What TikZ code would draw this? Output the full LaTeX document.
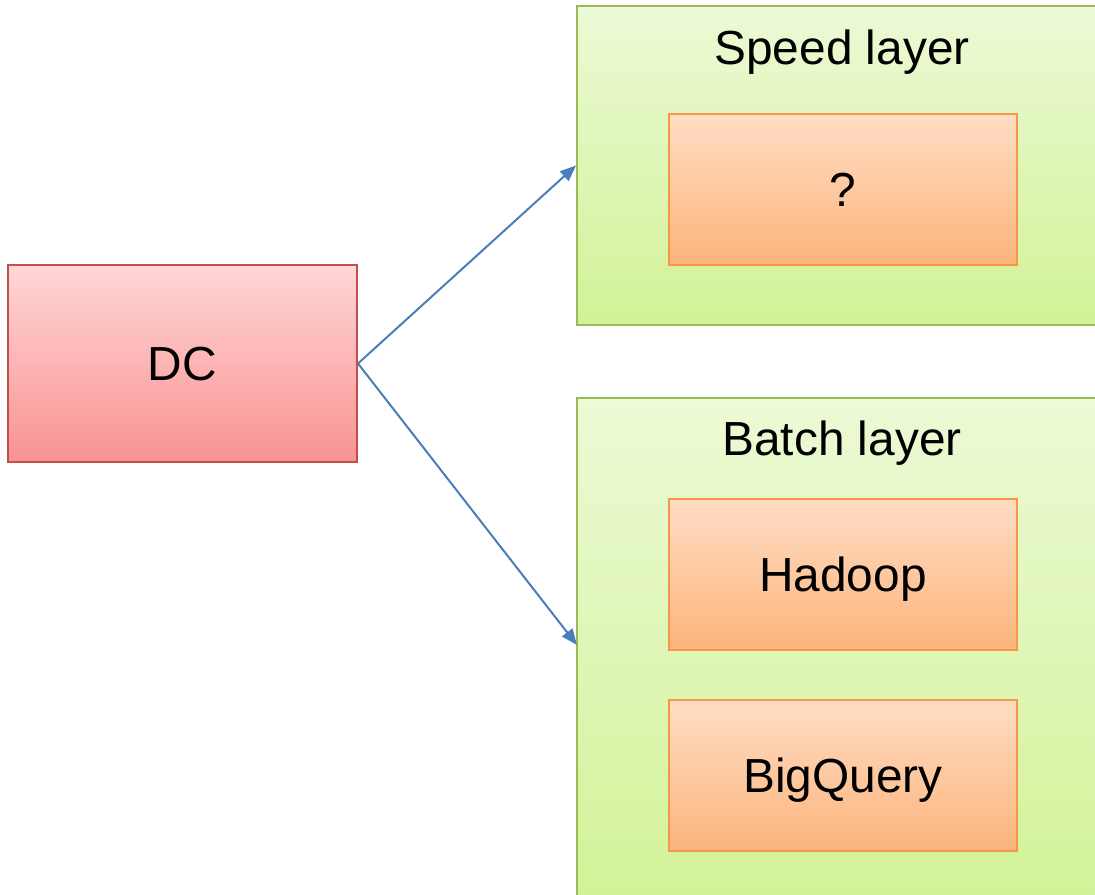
\documentclass[tikz,border=0pt]{standalone}
\usepackage{fontspec}
\setmainfont{Liberation Sans}
\usetikzlibrary{arrows.meta,positioning}
\definecolor{dcborder}{RGB}{192,80,77}
\definecolor{dctop}{RGB}{255,214,214}
\definecolor{dcbottom}{RGB}{250,146,146}
\definecolor{layerborder}{RGB}{155,187,89}
\definecolor{layertop}{RGB}{236,250,214}
\definecolor{layerbottom}{RGB}{210,242,150}
\definecolor{toolborder}{RGB}{247,150,70}
\definecolor{tooltop}{RGB}{255,221,196}
\definecolor{toolbottom}{RGB}{252,180,124}
\definecolor{flow}{RGB}{74,126,187}

\begin{document}
\begin{tikzpicture}[
        x=0.025cm,
        y=-0.025cm,
        every node/.style={font=\fontsize{34}{40}\selectfont,
            inner sep=0pt,text depth=0pt},
        source box/.style={draw=dcborder,line width=0.05cm,
            top color=dctop,bottom color=dcbottom,
            minimum width=349*0.025cm,minimum height=197*0.025cm},
        layer box/.style={draw=layerborder,line width=0.05cm,
            top color=layertop,bottom color=layerbottom,
            minimum width=530*0.025cm},
        tool box/.style={draw=toolborder,line width=0.05cm,
            top color=tooltop,bottom color=toolbottom,
            minimum width=348*0.025cm,minimum height=151*0.025cm},
        flow arrow/.style={flow,line width=0.05cm,
            -{Triangle[length=0.4cm,width=0.32cm]}}
    ]
        \useasboundingbox (0,0) rectangle (1095,894);
        \clip (0,0) rectangle (1095,894);

        % The data source.
        \node[source box] (dc) at (182.5,363.5) {DC};

        % The speed layer with its unknown tool.
        \node[layer box,minimum height=319*0.025cm] (speed) at (842,165.5) {};
        \node (speedlabel) at (842,47.5) {Speed layer};
        \node[tool box] (unknown) at (843,189.5) {?};

        % The batch layer.
        \node[layer box,minimum height=512*0.025cm] (batch) at (842,654) {};
        \node (batchlabel) at (842,438.5) {Batch layer};
        \node[tool box] (hadoop) at (843,574.5) {Hadoop};
        \node[tool box] (bigquery) at (843,775) {BigQuery};

        % Both layers are fed from the source.
        \coordinate (batchin) at (577,645);
        \draw[flow arrow] (dc.east) -- (speed.west);
        \draw[flow arrow] (dc.east) -- (batchin);
    \end{tikzpicture}
\end{document}
